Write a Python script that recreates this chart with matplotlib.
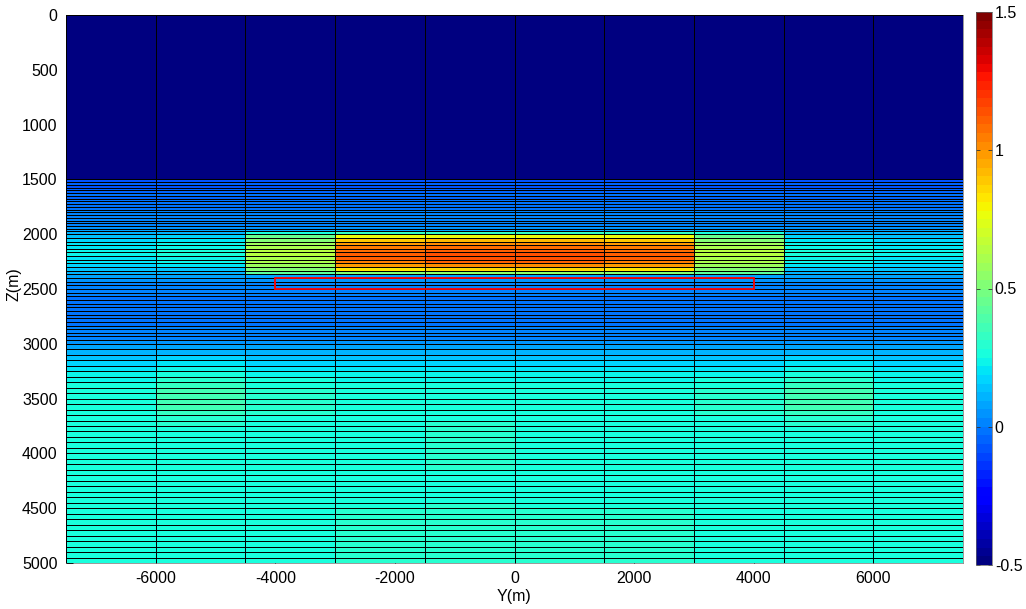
import numpy as np
import matplotlib
matplotlib.use("Agg")
import matplotlib.pyplot as plt
from matplotlib.patches import Rectangle

plt.rcParams["font.family"] = ["Liberation Sans", "DejaVu Sans"]
plt.rcParams["axes.unicode_minus"] = False

# ---- model grid -------------------------------------------------------------
y_edges = np.arange(-7500, 7501, 1500)                     # 10 lateral cells
z_edges = np.concatenate([[0.0],
                          np.linspace(1500, 2000, 21),       # 25 m layers
                          np.linspace(2000, 3000, 31)[1:],   # 33.3 m layers
                          np.linspace(3000, 5000, 41)[1:]])  # 50 m layers

# ---- cell values (per depth segment) ---------------------------------------
overburden = -0.5                                           # 0-1500 m block

shallow_blue = [-0.09, -0.06, -0.08, -0.05, -0.06, -0.03, -0.05, -0.02, -0.03,
                -0.01, -0.01, 0.00, 0.00, 0.01, 0.01, 0.02, 0.03, 0.05, 0.08]

# 1975-2000 m layer, one value per lateral cell
cap_layer = [0.11, 0.11, 0.27, 0.32, 0.34, 0.34, 0.32, 0.27, 0.11, 0.11]

# 2000-2367 m anomaly layers
outer_anom = [0.14, 0.17, 0.19, 0.21, 0.22, 0.22, 0.21, 0.19, 0.16, 0.13, 0.10]
flank_anom = [0.16, 0.19, 0.22, 0.24, 0.25, 0.25, 0.24, 0.22, 0.19, 0.15, 0.11]
shoulder_anom = [0.45, 0.53, 0.58, 0.61, 0.63, 0.63, 0.62, 0.60, 0.57, 0.52, 0.42]
inner_anom = [0.76, 0.90, 0.98, 1.04, 1.08, 1.10, 1.10, 1.06, 0.98, 0.82, 0.52]
center_anom = [0.78, 0.92, 1.02, 1.08, 1.12, 1.14, 1.14, 1.10, 1.02, 0.85, 0.55]

# 2367-3000 m
below_blue = [0.07, 0.05, 0.03, 0.02, 0.01, 0.00, -0.01, -0.01, -0.02, -0.02,
              -0.02, -0.02, -0.01, -0.01, 0.00, 0.01, 0.02, 0.03, 0.05]

# 3000-5000 m
deep_rise = [0.08, 0.11, 0.14, 0.17, 0.20, 0.22, 0.24, 0.25, 0.26, 0.27]
outer_deep = deep_rise + [0.27] * 30
flank_deep = [0.08, 0.12, 0.16, 0.20, 0.24, 0.27, 0.30, 0.33, 0.35, 0.36,
              0.36, 0.35, 0.33, 0.31, 0.29, 0.28, 0.27, 0.27, 0.27, 0.27] + [0.27] * 20
shoulder_deep = [0.08, 0.12, 0.15, 0.18, 0.21, 0.24, 0.26, 0.28, 0.30, 0.31,
                 0.31, 0.30, 0.29, 0.28, 0.27, 0.27, 0.27, 0.27, 0.27, 0.27] + [0.27] * 20
inner_deep = deep_rise + [0.27] * 19 + [0.28, 0.29, 0.30, 0.30, 0.31, 0.31,
                                        0.31, 0.31, 0.30, 0.30, 0.30]
center_l_deep = deep_rise + [0.27, 0.27, 0.28, 0.28, 0.29, 0.30,
                             0.31, 0.31, 0.31, 0.31, 0.31, 0.30, 0.29,
                             0.27, 0.27, 0.27, 0.27, 0.27, 0.28, 0.29,
                             0.30, 0.31, 0.31, 0.31, 0.31, 0.31, 0.31, 0.31, 0.31, 0.30]
center_r_deep = deep_rise + [0.27] * 19 + [0.28, 0.29, 0.30, 0.31, 0.31, 0.31,
                                           0.31, 0.31, 0.31, 0.30, 0.30]

anom_by_col = [outer_anom, flank_anom, shoulder_anom, inner_anom, center_anom,
               center_anom, inner_anom, shoulder_anom, flank_anom, outer_anom]
deep_by_col = [outer_deep, flank_deep, shoulder_deep, inner_deep, center_l_deep,
               center_r_deep, inner_deep, shoulder_deep, flank_deep, outer_deep]

columns = []
for k in range(len(y_edges) - 1):
    columns.append([overburden] + shallow_blue + [cap_layer[k]] + anom_by_col[k]
                   + below_blue + deep_by_col[k])
values = np.array(columns).T          # (layers, lateral cells)

# target outline
box_y = (-4000, 4000)
box_z = (2400, 2500)

# ---- figure -----------------------------------------------------------------
W, H = 1026, 609
fig = plt.figure(figsize=(W / 100, H / 100), dpi=100)
ax = fig.add_axes([66 / W, 1 - 563 / H, 897 / W, 548 / H])

cmap = plt.get_cmap("jet", 64)
mesh = ax.pcolormesh(y_edges, z_edges, values, cmap=cmap, vmin=-0.5, vmax=1.5,
                     edgecolors="black", linewidth=0.6)
ax.add_patch(Rectangle((box_y[0], box_z[0]), box_y[1] - box_y[0], box_z[1] - box_z[0],
                       fill=False, edgecolor="red", linewidth=1.3, zorder=3))

ax.set_xlim(-7500, 7500)
ax.set_ylim(5000, 0)
ax.set_xticks(np.arange(-6000, 6001, 2000))
ax.set_yticks(np.arange(0, 5001, 500))
ax.set_axisbelow(True)
ax.tick_params(direction="in", length=5, labelsize=11.5, pad=6, width=0.6)
for s in ax.spines.values():
    s.set_linewidth(0.6)
    s.set_color("#888888")
    s.set_zorder(0.4)

fig.text(14 / W, 1 - 284 / H, "Z(m)", rotation=90, ha="center", va="center", fontsize=11.5)
fig.text(514 / W, 1 - 597 / H, "Y(m)", ha="center", va="center", fontsize=11.5)

cax = fig.add_axes([976 / W, 1 - 565 / H, 16 / W, 553 / H])
cb = fig.colorbar(mesh, cax=cax, ticks=[-0.5, 0, 0.5, 1, 1.5])
cb.set_ticklabels(["-0.5", "0", "0.5", "1", "1.5"])
cb.outline.set_linewidth(0.5)
cb.outline.set_edgecolor("#666666")
cax.tick_params(direction="in", left=True, right=True, length=3, width=0.6,
                color="#333333", labelsize=11.5, pad=2)

fig.savefig("out.png", dpi=100)
